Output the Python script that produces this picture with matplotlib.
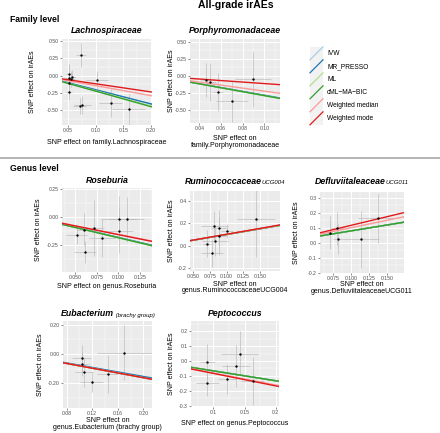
import numpy as np
import matplotlib.pyplot as plt
from matplotlib.lines import Line2D
from matplotlib.patches import Rectangle

plt.rcParams['font.family'] = ['Liberation Sans', 'DejaVu Sans']

W, H = 440, 433

methods = ['IVW', 'MR_PRESSO', 'ML', 'cML\u2212MA\u2212BIC', 'Weighted median', 'Weighted mode']
method_colors = ['#A6CEE3', '#1F78B4', '#B2DF8A', '#33A02C', '#FB9A99', '#E31A1C']

# --- data (SNP effects, standard errors, method slopes) ---
lachno_x = [0.073, 0.052, 0.052, 0.055, 0.058, 0.052, 0.052, 0.102, 0.071, 0.076, 0.127, 0.160]
lachno_y = [0.30, 0.02, -0.03, -0.05, -0.02, -0.11, -0.24, -0.06, -0.44, -0.43, -0.40, -0.49]
lachno_xse = [0.009, 0.006, 0.007, 0.008, 0.006, 0.007, 0.006, 0.020, 0.012, 0.015, 0.021, 0.030]
lachno_yse = [0.17, 0.14, 0.20, 0.12, 0.10, 0.15, 0.12, 0.13, 0.12, 0.13, 0.20, 0.22]
lachno_slopes = [-2.05, -2.05, -2.20, -2.25, -1.45, -1.18]

porphy_x = [0.046, 0.050, 0.057, 0.070, 0.0895]
porphy_y = [-0.06, -0.09, -0.23, -0.37, -0.05]
porphy_xse = [0.004, 0.005, 0.005, 0.015, 0.017]
porphy_yse = [0.25, 0.28, 0.28, 0.30, 0.40]
porphy_slopes = [-2.80, -2.80, -2.85, -2.85, -2.20, -1.10]

roseb_x = [0.0514, 0.0599, 0.061, 0.0719, 0.0812, 0.101, 0.1006, 0.1095]
roseb_y = [-0.155, -0.111, -0.312, -0.097, -0.185, -0.012, -0.12, -0.018]
roseb_xse = [0.012, 0.008, 0.013, 0.011, 0.015, 0.021, 0.016, 0.020]
roseb_yse = [0.08, 0.15, 0.10, 0.25, 0.17, 0.20, 0.20, 0.20]
roseb_slopes = [-1.80, -1.80, -1.83, -1.83, -1.53, -1.55]

rumino_x = [0.0814, 0.089, 0.0825, 0.0885, 0.101, 0.0705, 0.078, 0.144]
rumino_y = [0.18, 0.157, 0.047, 0.089, 0.133, 0.018, -0.065, 0.237]
rumino_xse = [0.020, 0.012, 0.020, 0.010, 0.009, 0.006, 0.016, 0.029]
rumino_yse = [0.13, 0.16, 0.14, 0.17, 0.06, 0.12, 0.12, 0.34]
rumino_slopes = [1.02, 1.02, 1.02, 1.02, 1.03, 1.04]

deflu_x = [0.0713, 0.0812, 0.082, 0.114, 0.138]
deflu_y = [0.067, 0.097, 0.023, 0.023, 0.166]
deflu_xse = [0.005, 0.009, 0.007, 0.025, 0.028]
deflu_yse = [0.11, 0.11, 0.10, 0.19, 0.17]
deflu_slopes = [0.79, 0.79, 0.79, 0.79, 1.00, 1.16]

eubac_x = [0.1035, 0.1035, 0.107, 0.119, 0.144, 0.170]
eubac_y = [-0.029, -0.068, -0.125, -0.193, -0.139, 0.009]
eubac_xse = [0.015, 0.012, 0.014, 0.018, 0.016, 0.043]
eubac_yse = [0.09, 0.08, 0.10, 0.07, 0.13, 0.19]
eubac_slopes = [-0.77, -0.77, -0.81, -0.81, -0.81, -0.81]

pepto_x = [0.0904, 0.0904, 0.122, 0.136, 0.142, 0.163]
pepto_y = [-0.004, -0.144, -0.12, -0.033, 0.047, -0.133]
pepto_xse = [0.012, 0.018, 0.015, 0.022, 0.030, 0.018]
pepto_yse = [0.12, 0.09, 0.10, 0.14, 0.15, 0.16]
pepto_slopes = [-0.66, -0.66, -0.66, -0.66, -0.80, -0.83]

fig = plt.figure(figsize=(W / 100, H / 100), dpi=100)


def px_axes(x0, y0, x1, y1):
    return fig.add_axes([x0 / W, 1 - y1 / H, (x1 - x0) / W, (y1 - y0) / H])


def minor_ticks(t, lim):
    step = t[1] - t[0]
    m = np.arange(t[0] - step / 2, t[-1] + step, step)
    return m[(m > lim[0]) & (m < lim[1])]


def draw_panel(box, bx, by, bx_se, by_se, slopes, xlim, ylim, xt, xfmt, yt, yfmt,
               xlabel, ylab_cx, xlab_top):
    x0, y0, x1, y1 = box
    ax = px_axes(*box)
    ax.set_facecolor('#EBEBEB')
    for s in ax.spines.values():
        s.set_visible(False)
    ax.errorbar(bx, by, xerr=bx_se, yerr=by_se, fmt='none', ecolor='#B8B8B8',
                elinewidth=0.45, zorder=2)
    xx = np.array(xlim)
    for b, c in zip(slopes, method_colors):
        ax.plot(xx, b * xx, color=c, lw=1.0, zorder=3)
    ax.plot(bx, by, 'o', color='black', ms=1.7, mew=0, zorder=4)
    ax.set_xlim(xlim)
    ax.set_ylim(ylim)
    ax.set_xticks(xt)
    ax.set_xticklabels([xfmt.format(v) if isinstance(xfmt, str) else xfmt[i]
                        for i, v in enumerate(xt)])
    ax.set_yticks(yt)
    ax.set_yticklabels([yfmt.format(v) for v in yt])
    ax.set_xticks(minor_ticks(xt, xlim), minor=True)
    ax.set_yticks(minor_ticks(yt, ylim), minor=True)
    ax.grid(which='major', color='white', lw=0.7)
    ax.grid(which='minor', color='white', lw=0.35)
    ax.set_axisbelow(True)
    ax.tick_params(which='major', length=1.5, width=0.4, color='#333333', pad=0.8,
                   labelsize=3.7, labelcolor='#4D4D4D')
    ax.tick_params(which='minor', length=0)
    ax.set_xlabel(xlabel, fontsize=5, linespacing=0.95)
    ax.set_ylabel('SNP effect on irAEs', fontsize=5)
    ax.yaxis.set_label_coords((ylab_cx + 3.5 - x0) / (x1 - x0), 0.5)
    ax.xaxis.set_label_coords(0.5, -(xlab_top - y1) / (y1 - y0))
    return ax


def panel_title(ax, main, extra=None, gap=5):
    bb = ax.get_position()
    cx = (bb.x0 + bb.x1) / 2
    y = bb.y1 + gap / H
    t1 = fig.text(cx, y, main, fontsize=6.3, fontweight='bold', fontstyle='italic',
                  ha='center', va='baseline')
    if extra:
        t2 = fig.text(cx, y, extra, fontsize=4.3, fontstyle='italic', ha='left',
                      va='baseline')
        r = fig.canvas.get_renderer()
        w1 = t1.get_window_extent(r).width / fig.bbox.width
        w2 = t2.get_window_extent(r).width / fig.bbox.width
        left = cx - (w1 + w2) / 2
        t1.set_ha('left')
        t1.set_x(left)
        t2.set_x(left + w1)


# family level
ax1 = draw_panel((62, 39, 152, 125), lachno_x, lachno_y, lachno_xse, lachno_yse, lachno_slopes,
                 (0.039, 0.202), (-0.717, 0.533), [0.05, 0.10, 0.15, 0.20], '{:.2f}',
                 [-0.5, -0.25, 0, 0.25, 0.5], '{:.2f}',
                 'SNP effect on family.Lachnospiraceae', 33, 138.5)
panel_title(ax1, 'Lachnospiraceae', gap=6)

ax2 = draw_panel((190, 39, 280, 123), porphy_x, porphy_y, porphy_xse, porphy_yse, porphy_slopes,
                 (0.0314, 0.1145), (-0.683, 0.538), [0.04, 0.06, 0.08, 0.10], '{:.2f}',
                 [-0.5, -0.25, 0, 0.25, 0.5], '{:.2f}',
                 'SNP effect on\nfamily.Porphyromonadaceae', 171, 135.5)
panel_title(ax2, 'Porphyromonadaceae', gap=6)

# genus level
ax3 = draw_panel((62, 188, 152, 272), roseb_x, roseb_y, roseb_xse, roseb_yse, roseb_slopes,
                 (0.0343, 0.139), (-0.489, 0.262), [0.05, 0.075, 0.1, 0.125], '{:.3f}',
                 [-0.25, 0, 0.25], '{:.2f}',
                 'SNP effect on genus.Roseburia', 39, 283.5)
panel_title(ax3, 'Roseburia', gap=4.5)

ax4 = draw_panel((190, 191, 280, 271), rumino_x, rumino_y, rumino_xse, rumino_yse, rumino_slopes,
                 (0.045, 0.18), (-0.224, 0.49), [0.05, 0.075, 0.1, 0.125, 0.15], '{:.3f}',
                 [-0.2, 0, 0.2, 0.4], '{:.1f}',
                 'SNP effect on\ngenus.RuminococcaceaeUCG004', 171, 280.5)
panel_title(ax4, 'Ruminococcaceae', 'UCG004', gap=7)

ax5 = draw_panel((320, 192, 404, 273), deflu_x, deflu_y, deflu_xse, deflu_yse, deflu_slopes,
                 (0.0573, 0.174), (-0.203, 0.34), [0.075, 0.1, 0.125, 0.15], '{:.3f}',
                 [-0.2, -0.1, 0, 0.1, 0.2, 0.3], '{:.1f}',
                 'SNP effect on\ngenus.DefluviitaleaceaeUCG011', 296, 281.5)
panel_title(ax5, 'Defluviitaleaceae', 'UCG011', gap=8)

ax6 = draw_panel((63, 321, 152, 408), eubac_x, eubac_y, eubac_xse, eubac_yse, eubac_slopes,
                 (0.0742, 0.2136), (-0.369, 0.225), [0.08, 0.12, 0.16, 0.20], '{:.2f}',
                 [-0.2, 0, 0.2], '{:.2f}',
                 'SNP effect on\ngenus.Eubacterium (brachy group)', 40, 417.5)
panel_title(ax6, 'Eubacterium', ' (brachy group)', gap=4.5)

ax7 = draw_panel((191, 321, 279, 407), pepto_x, pepto_y, pepto_xse, pepto_yse, pepto_slopes,
                 (0.0639, 0.2053), (-0.307, 0.267), [0.1, 0.15, 0.2], ['0.1', '0.15', '0.2'],
                 [-0.3, -0.2, -0.1, 0, 0.1, 0.2], '{:.1f}',
                 'SNP effect on genus.Peptococcus', 171, 420)
panel_title(ax7, 'Peptococcus', gap=4.5)

# headings and separator
fig.text(236 / W, 1 - 5.5 / H, 'All-grade irAEs', ha='center', va='center',
         fontsize=7.5, fontweight='bold')
fig.text(10 / W, 1 - 19.5 / H, 'Family level', ha='left', va='center',
         fontsize=6.2, fontweight='bold')
fig.text(10 / W, 1 - 168.5 / H, 'Genus level', ha='left', va='center',
         fontsize=6.2, fontweight='bold')
fig.add_artist(Line2D([0, 1], [1 - 158.3 / H] * 2, transform=fig.transFigure,
                      color='#A0A0A0', lw=1.1))

# legend drawn by hand, ggplot abline style keys
lg = px_axes(300, 40, 420, 135)
lg.set_xlim(300, 420)
lg.set_ylim(135, 40)
lg.axis('off')
for i, (m, c) in enumerate(zip(methods, method_colors)):
    cy = 53.3 + 13 * i
    lg.add_patch(Rectangle((310, cy - 6.5), 13, 13, facecolor='#F2F2F2', edgecolor='none'))
    lg.plot([310, 323], [cy + 6.5, cy - 6.5], color=c, lw=0.9)
    lg.text(327, cy, m, fontsize=4.8, va='center', ha='left', color='black')

fig.savefig('out.png', dpi=100)
